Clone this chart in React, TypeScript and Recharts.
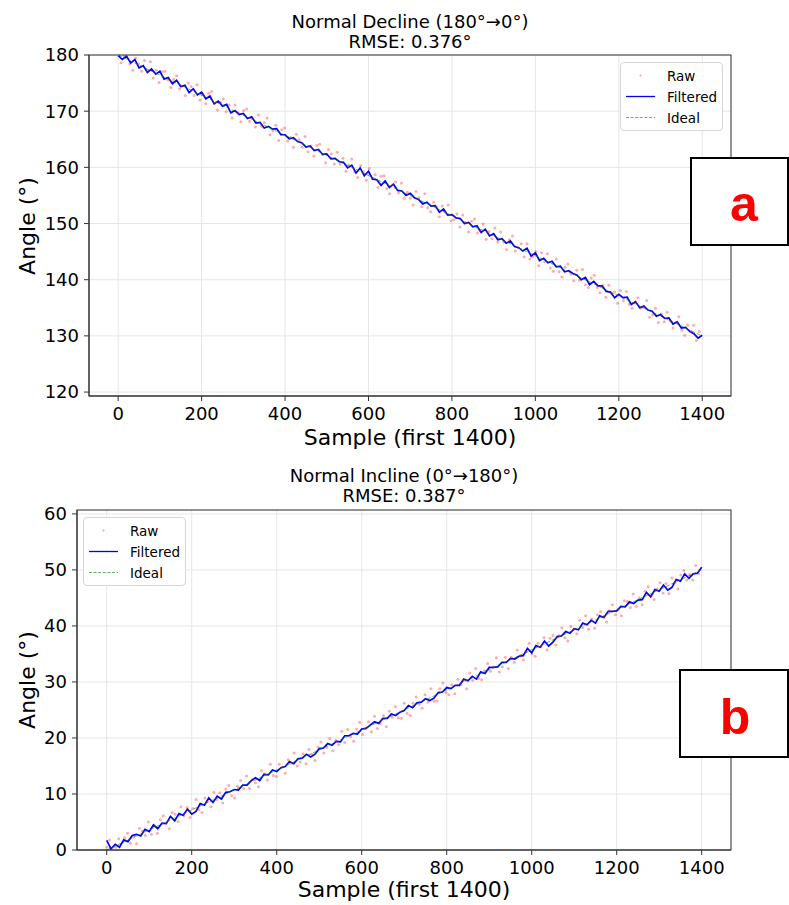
import React from 'react';
import { ComposedChart, Line, Scatter, XAxis, YAxis, CartesianGrid, Legend } from 'recharts';

const FONT = '"DejaVu Sans", sans-serif';

// shared x axis (sample index)
const sampleTicks = [0, 200, 400, 600, 800, 1000, 1200, 1400];
const sampleDomain: [number, number] = [-69.95, 1468.95];
const filteredStep = 10; // filtered curve read every 10 samples
const rawStep = 7; // raw dots read every 7 samples
const idealSamples = [0, 1399];

// panel a: Normal Decline (180° -> 0°)
const declineTicks = [120, 130, 140, 150, 160, 170, 180];
const declineIdeal = [180, 130];
const declineFiltered = [
  179.9, 179.2, 179.8, 178.6, 179.2, 177.7, 178.1,
  176.9, 177.5, 176.6, 177.1, 175.7, 176.0, 174.9,
  175.5, 174.4, 174.6, 173.3, 174.0, 172.9, 173.4,
  172.2, 172.7, 171.3, 171.8, 170.9, 171.2, 169.7,
  170.1, 169.4, 169.6, 168.7, 169.0, 167.9, 168.0,
  167.0, 167.3, 166.8, 166.9, 165.8, 165.8, 165.1,
  165.3, 164.6, 164.4, 163.6, 163.8, 163.0, 163.2,
  162.3, 162.4, 161.5, 161.6, 161.0, 160.9, 159.9,
  160.4, 159.0, 159.9, 158.5, 159.3, 157.9, 157.8,
  156.8, 157.6, 156.4, 157.0, 155.9, 155.8, 155.0,
  155.4, 154.6, 154.3, 153.5, 153.8, 153.1, 153.2,
  152.0, 152.6, 151.5, 151.6, 151.0, 150.9, 150.0,
  150.2, 149.4, 149.6, 148.4, 149.0, 147.8, 148.2,
  147.1, 147.3, 146.5, 146.9, 145.9, 145.7, 145.1,
  145.6, 144.2, 144.8, 143.4, 143.8, 143.0, 143.3,
  142.3, 142.4, 141.4, 141.6, 141.1, 140.8, 140.0,
  140.4, 139.1, 139.7, 138.9, 138.9, 137.9, 137.8,
  136.8, 137.4, 136.8, 136.9, 135.6, 136.1, 135.0,
  135.3, 134.6, 134.4, 133.5, 133.8, 133.1, 133.2,
  132.1, 132.5, 131.4, 131.5, 130.8, 130.4, 129.6,
  130.1,
];
const declineRaw = [
  180.8, 178.6, 179.8, 180.7, 178.4, 177.3, 179.4, 178.4, 177.1, 179.0,
  177.2, 178.8, 175.9, 177.3, 175.1, 177.0, 177.1, 175.6, 174.2, 175.7,
  176.3, 174.0, 174.5, 172.8, 175.0, 174.4, 172.8, 174.7, 172.0, 173.0,
  171.3, 173.2, 173.5, 171.4, 170.2, 171.6, 172.2, 169.9, 171.1, 168.8,
  171.1, 169.7, 168.1, 170.1, 170.4, 168.2, 168.7, 167.2, 169.3, 167.3,
  168.0, 168.8, 165.8, 166.5, 167.5, 164.8, 166.7, 167.0, 164.7, 165.3,
  163.6, 165.9, 164.9, 163.6, 165.5, 162.8, 163.8, 162.0, 163.9, 164.1,
  162.3, 160.8, 163.2, 162.4, 160.6, 162.7, 160.6, 161.6, 159.3, 160.4,
  161.5, 159.2, 158.2, 160.3, 159.2, 157.7, 159.8, 158.0, 158.7, 156.4,
  158.4, 158.5, 156.2, 155.3, 156.9, 157.4, 155.5, 157.2, 154.5, 155.6,
  154.5, 153.3, 155.7, 154.6, 153.0, 155.3, 152.8, 152.1, 153.8, 152.8,
  151.2, 153.1, 152.0, 153.3, 150.5, 150.7, 151.7, 149.4, 151.5, 150.1,
  148.5, 150.4, 150.8, 148.3, 148.8, 149.9, 147.2, 148.6, 147.3, 149.2,
  146.7, 148.5, 146.7, 145.4, 147.1, 147.8, 145.1, 145.7, 146.4, 144.1,
  146.4, 143.7, 144.1, 145.0, 142.5, 144.8, 143.2, 144.6, 142.1, 141.5,
  143.7, 141.4, 140.5, 142.2, 142.8, 141.0, 139.8, 141.7, 139.9, 141.8,
  139.1, 138.6, 140.3, 140.8, 138.6, 137.7, 139.0, 136.9, 139.0, 137.5,
  137.8, 135.8, 138.1, 136.3, 137.9, 135.6, 134.9, 136.0, 136.8, 134.9,
  135.2, 136.3, 133.3, 133.7, 134.9, 132.4, 133.9, 132.5, 134.2, 132.7,
  131.4, 132.4, 133.4, 131.0, 130.1, 131.9, 130.8, 131.9, 129.2, 130.8,
];

// panel b: Normal Incline (0° -> 180°)
const inclineTicks = [0, 10, 20, 30, 40, 50, 60];
const inclineIdeal = [0, 50];
const inclineFiltered = [
  1.7, 0.2, 1.0, 0.5, 1.8, 1.5, 2.6,
  2.8, 2.5, 3.7, 3.3, 4.5, 3.8, 4.8,
  4.7, 6.0, 5.2, 6.5, 6.2, 7.3, 6.4,
  6.9, 8.3, 8.0, 9.3, 8.5, 9.6, 9.1,
  10.3, 10.4, 10.8, 10.7, 11.6, 11.6, 12.4,
  12.9, 12.4, 13.5, 13.4, 14.3, 14.0, 14.7,
  14.9, 15.8, 15.4, 16.3, 16.4, 17.1, 16.6,
  17.1, 18.1, 18.2, 19.0, 18.7, 19.4, 19.3,
  20.4, 20.4, 20.8, 20.7, 21.6, 21.7, 22.3,
  22.9, 22.6, 23.5, 23.5, 24.3, 24.0, 24.6,
  24.9, 25.8, 25.4, 26.3, 26.4, 27.0, 26.7,
  27.1, 28.1, 28.2, 29.0, 28.8, 29.4, 29.4,
  30.5, 30.2, 31.0, 30.5, 31.8, 31.5, 32.6,
  32.6, 32.7, 33.5, 33.5, 34.2, 34.1, 34.6,
  34.7, 36.0, 35.2, 36.5, 36.2, 37.3, 36.4,
  37.1, 38.1, 38.2, 39.0, 38.7, 39.5, 39.3,
  40.5, 40.2, 41.0, 40.5, 41.8, 41.5, 42.6,
  42.6, 42.7, 43.5, 43.4, 44.3, 44.0, 44.6,
  44.7, 46.0, 45.2, 46.5, 46.2, 47.3, 46.4,
  46.9, 48.3, 48.0, 49.3, 48.5, 49.3, 49.4,
  50.5,
];
const inclineRaw = [
  0.5, 1.8, -0.7, 0.5, 2.0, -0.3, 2.2, 3.0, 1.2, 2.3,
  1.1, 3.9, 3.4, 2.6, 5.0, 2.8, 4.3, 3.0, 5.4, 6.1,
  4.8, 3.8, 6.7, 6.4, 5.1, 7.7, 6.1, 7.6, 5.8, 7.4,
  9.0, 7.2, 6.7, 9.3, 8.7, 7.7, 10.3, 9.0, 10.2, 8.4,
  10.9, 11.5, 9.7, 9.3, 11.4, 12.4, 11.0, 13.2, 11.0, 12.6,
  12.0, 11.3, 14.2, 13.6, 12.5, 15.3, 13.3, 13.1, 15.3, 14.8,
  13.7, 16.1, 15.5, 17.3, 15.0, 15.7, 17.2, 15.4, 18.0, 17.1,
  16.0, 18.4, 19.3, 17.3, 18.3, 19.9, 17.7, 19.6, 18.8, 21.2,
  19.2, 21.5, 20.2, 19.4, 21.6, 22.8, 20.6, 21.7, 22.9, 21.1,
  23.9, 21.7, 22.6, 24.0, 22.0, 24.8, 23.7, 25.6, 23.6, 23.5,
  26.2, 24.4, 24.0, 26.2, 27.3, 26.0, 25.3, 27.7, 26.4, 28.8,
  26.6, 26.6, 28.8, 29.8, 28.1, 27.7, 29.5, 27.9, 30.5, 29.5,
  30.3, 28.8, 31.6, 30.3, 32.4, 30.6, 30.4, 32.0, 33.3, 31.9,
  32.7, 34.3, 31.8, 32.7, 34.4, 32.4, 34.4, 33.5, 35.7, 34.7,
  33.9, 35.4, 36.9, 35.0, 34.6, 36.9, 36.3, 37.9, 35.7, 37.8,
  38.3, 36.6, 38.3, 39.7, 37.9, 37.3, 39.9, 39.4, 38.6, 41.0,
  39.7, 41.8, 39.4, 41.3, 39.6, 42.0, 42.6, 41.6, 40.7, 42.7,
  43.8, 42.0, 43.0, 41.8, 44.5, 44.4, 43.3, 45.7, 43.5, 45.0,
  43.8, 46.2, 47.0, 45.4, 44.7, 46.6, 47.7, 45.9, 47.6, 45.8,
  48.6, 47.7, 46.6, 49.1, 49.9, 48.2, 49.2, 48.2, 50.8, 49.3,
];

type Row = { sample: number; angle: number };
const everyStep = (values: number[], step: number): Row[] =>
  values.map((angle, i) => ({ sample: i * step, angle }));
const atSamples = (values: number[], samples: number[]): Row[] =>
  values.map((angle, i) => ({ sample: samples[i], angle }));

const legendItems = [
  { name: 'Raw', kind: 'dot', color: '#ff0000' },
  { name: 'Filtered', kind: 'line', color: '#0000ff' },
  { name: 'Ideal', kind: 'dash', color: '#008000' },
];

const LegendBox = () => (
  <div
    style={{
      boxSizing: 'border-box', width: 103, height: 69, padding: '2px 0 0 5px',
      border: '1px solid #d6d6d6', borderRadius: 4, background: 'rgba(255,255,255,0.85)',
      fontFamily: FONT, fontSize: 13.5, color: '#000',
    }}
  >
    {legendItems.map((it) => (
      <div key={it.name} style={{ display: 'flex', alignItems: 'center', height: 21 }}>
        <svg width={29} height={21} style={{ marginRight: 12 }}>
          {it.kind === 'dot' && <circle cx={14.5} cy={10.5} r={1} fill={it.color} fillOpacity={0.4} />}
          {it.kind === 'line' && <line x1={0} x2={29} y1={10.5} y2={10.5} stroke={it.color} strokeWidth={1.3} />}
          {it.kind === 'dash' && (
            <line x1={0} x2={29} y1={10.5} y2={10.5} stroke={it.color} strokeOpacity={0.6} strokeDasharray="3 1.6" />
          )}
        </svg>
        <span>{it.name}</span>
      </div>
    ))}
  </div>
);

const RawDot = (props: any) =>
  props.cx == null ? null : <circle cx={props.cx} cy={props.cy} r={1.5} fill="#ff0000" fillOpacity={0.33} />;

type PanelProps = {
  top: number;
  height: number;
  yAxisWidth: number;
  xAxisHeight: number;
  yDomain: [number, number];
  yTicks: number[];
  raw: Row[];
  filtered: Row[];
  ideal: Row[];
  legendPos: { left: number; top: number };
};

const tickStyle = { fontSize: 18, fill: '#000', fontFamily: FONT };

const Panel = ({ top, height, yAxisWidth, xAxisHeight, yDomain, yTicks, raw, filtered, ideal, legendPos }: PanelProps) => (
  <div style={{ position: 'absolute', left: 0, top }}>
    <ComposedChart width={789} height={height} margin={{ top: 55, right: 58, bottom: 0, left: 0 }}>
      <CartesianGrid stroke="#e6e6e6" strokeWidth={1} />
      <XAxis
        dataKey="sample" type="number" domain={sampleDomain} ticks={sampleTicks} interval={0}
        allowDataOverflow height={xAxisHeight} tickSize={5} tickMargin={6} tick={tickStyle} stroke="#333"
      />
      <YAxis
        type="number" domain={yDomain} ticks={yTicks} interval={0} allowDataOverflow
        width={yAxisWidth} tickSize={5} tickMargin={5} tick={tickStyle} stroke="#333"
      />
      <Legend
        layout="vertical" align="center" verticalAlign="middle"
        wrapperStyle={{ left: legendPos.left, top: legendPos.top, width: 103, height: 69 }}
        content={() => <LegendBox />}
      />
      <Scatter name="Raw" data={raw} dataKey="angle" shape={RawDot} isAnimationActive={false} />
      <Line name="Filtered" data={filtered} dataKey="angle" type="linear" stroke="#0000ff" strokeWidth={1.7} dot={false} isAnimationActive={false} />
      <Line name="Ideal" data={ideal} dataKey="angle" type="linear" stroke="#008000" strokeOpacity={0.6} strokeWidth={1} strokeDasharray="4 2" dot={false} isAnimationActive={false} />
    </ComposedChart>
  </div>
);

const Overlay = () => (
  <svg width={789} height={905} style={{ position: 'absolute', left: 0, top: 0, pointerEvents: 'none' }} fontFamily={FONT}>
    {/* axes frames (top and right spines) */}
    <rect x={89} y={55} width={642} height={341} fill="none" stroke="#333" strokeWidth={1} />
    <rect x={77} y={510} width={654} height={340} fill="none" stroke="#333" strokeWidth={1} />
    {/* titles */}
    <text x={410} y={28} textAnchor="middle" fontSize={18}>Normal Decline (180°→0°)</text>
    <text x={410} y={48} textAnchor="middle" fontSize={18}>RMSE: 0.376°</text>
    <text x={404} y={482} textAnchor="middle" fontSize={18}>Normal Incline (0°→180°)</text>
    <text x={404} y={502} textAnchor="middle" fontSize={18}>RMSE: 0.387°</text>
    {/* axis labels */}
    <text x={410} y={445} textAnchor="middle" fontSize={22}>Sample (first 1400)</text>
    <text x={404} y={897} textAnchor="middle" fontSize={22}>Sample (first 1400)</text>
    <text transform="translate(35,226) rotate(-90)" textAnchor="middle" fontSize={22}>Angle (°)</text>
    <text transform="translate(35,680) rotate(-90)" textAnchor="middle" fontSize={22}>Angle (°)</text>
    {/* panel markers */}
    <rect x={691} y={158} width={97} height={87} fill="#fff" stroke="#000" strokeWidth={2} />
    <text x={744} y={221} textAnchor="middle" fontSize={50} fontWeight="bold" fill="#ff0000" fontFamily='"Liberation Sans", Arial, sans-serif'>a</text>
    <rect x={680} y={670} width={108} height={87} fill="#fff" stroke="#000" strokeWidth={2} />
    <text x={735} y={734} textAnchor="middle" fontSize={50} fontWeight="bold" fill="#ff0000" fontFamily='"Liberation Sans", Arial, sans-serif'>b</text>
  </svg>
);

export default function App() {
  return (
    <div style={{ position: 'absolute', left: 0, top: 0, width: 789, height: 905, background: '#fff' }}>
      <Panel
        top={0} height={455} yAxisWidth={89} xAxisHeight={59}
        yDomain={[119.3, 180]} yTicks={declineTicks}
        raw={everyStep(declineRaw, rawStep)}
        filtered={everyStep(declineFiltered, filteredStep)}
        ideal={atSamples(declineIdeal, idealSamples)}
        legendPos={{ left: 620, top: 62 }}
      />
      <Panel
        top={455} height={450} yAxisWidth={77} xAxisHeight={55}
        yDomain={[0, 60.7]} yTicks={inclineTicks}
        raw={everyStep(inclineRaw, rawStep)}
        filtered={everyStep(inclineFiltered, filteredStep)}
        ideal={atSamples(inclineIdeal, idealSamples)}
        legendPos={{ left: 83, top: 62 }}
      />
      <Overlay />
    </div>
  );
}
